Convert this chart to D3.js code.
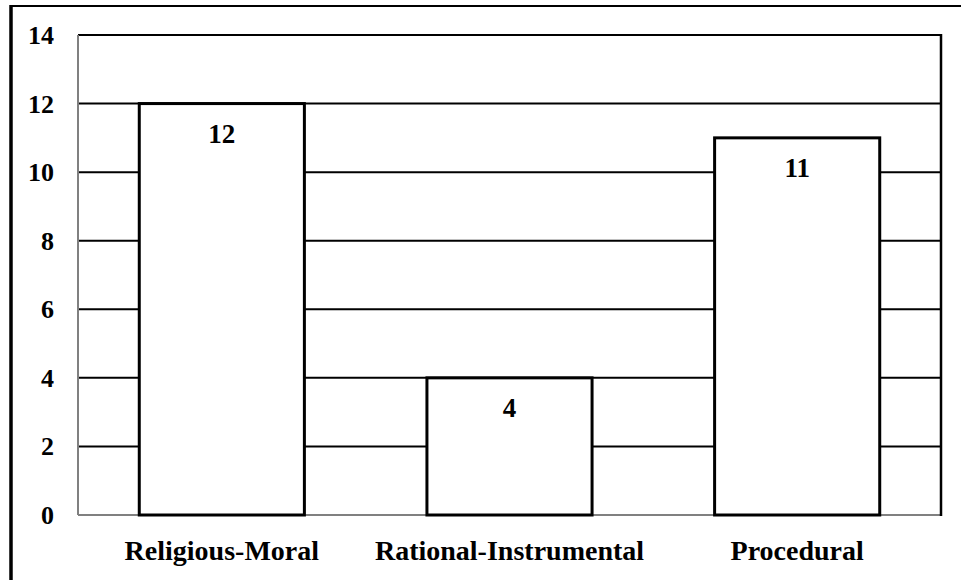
<!DOCTYPE html>
<html>
<head>
<meta charset="utf-8">
<script src="https://cdn.jsdelivr.net/npm/d3@7"></script>
<style>
  body { margin: 0; background: #fff; }
</style>
</head>
<body>
<div id="chart"></div>
<script>
  var categories = ["Religious-Moral", "Rational-Instrumental", "Procedural"];
  var counts = [12, 4, 11];
  var yTicks = [0, 2, 4, 6, 8, 10, 12, 14];

  function init() {
    var w = 961;
    var h = 580;
    var plotLeft = 78, plotRight = 941, plotTop = 35, plotBottom = 515;
    var font = "'Liberation Serif'";

    var svg = d3.select("#chart")
      .append("svg")
      .attr("width", w)
      .attr("height", h);

    var xScale = d3.scaleBand()
      .domain(categories)
      .range([plotLeft, plotRight])
      .paddingInner(0.426)
      .paddingOuter(0.213);

    var yScale = d3.scaleLinear()
      .domain([0, 14])
      .range([plotBottom, plotTop]);

    // texts first
    svg.selectAll("text.val")
      .data(counts)
      .enter()
      .append("text")
      .attr("x", (d, i) => xScale(categories[i]) + xScale.bandwidth() / 2)
      .attr("y", d => yScale(d) + 39)
      .attr("text-anchor", "middle")
      .attr("font-family", font)
      .attr("font-weight", "bold")
      .attr("font-size", 27)
      .text(d => d);

    svg.selectAll("text.ytick")
      .data(yTicks)
      .enter()
      .append("text")
      .attr("x", 54)
      .attr("y", d => yScale(d) + 9)
      .attr("text-anchor", "end")
      .attr("font-family", font)
      .attr("font-weight", "bold")
      .attr("font-size", 26)
      .text(d => d);

    svg.selectAll("text.cat")
      .data(categories)
      .enter()
      .append("text")
      .attr("x", d => xScale(d) + xScale.bandwidth() / 2)
      .attr("y", 560)
      .attr("text-anchor", "middle")
      .attr("font-family", font)
      .attr("font-weight", "bold")
      .attr("font-size", 28)
      .text(d => d);

    var g = svg.insert("g", "text");

    // outer frame (only top and left edges fall inside the view)
    g.append("line")
      .attr("x1", 11).attr("x2", w)
      .attr("y1", 6).attr("y2", 6)
      .attr("stroke", "#000")
      .attr("stroke-width", 2);
    g.append("line")
      .attr("x1", 11).attr("x2", 11)
      .attr("y1", 5).attr("y2", h)
      .attr("stroke", "#000")
      .attr("stroke-width", 3.5);

    // gridlines
    g.selectAll("line.grid")
      .data(yTicks.filter(d => d > 0))
      .enter()
      .append("line")
      .attr("class", "grid")
      .attr("x1", plotLeft)
      .attr("x2", plotRight)
      .attr("y1", d => yScale(d))
      .attr("y2", d => yScale(d))
      .attr("stroke", "#000")
      .attr("stroke-width", 2);

    // axis lines
    g.append("line")
      .attr("x1", plotLeft).attr("x2", plotRight)
      .attr("y1", plotBottom).attr("y2", plotBottom)
      .attr("stroke", "#808080").attr("stroke-width", 2);
    g.append("line")
      .attr("x1", plotLeft).attr("x2", plotLeft)
      .attr("y1", plotTop).attr("y2", plotBottom)
      .attr("stroke", "#808080").attr("stroke-width", 2);
    g.append("line")
      .attr("x1", plotRight).attr("x2", plotRight)
      .attr("y1", plotTop - 1).attr("y2", plotBottom + 1)
      .attr("stroke", "#000").attr("stroke-width", 2.5);

    // bars
    g.selectAll("rect")
      .data(counts)
      .enter()
      .append("rect")
      .attr("x", (d, i) => xScale(categories[i]))
      .attr("y", d => yScale(d))
      .attr("width", xScale.bandwidth())
      .attr("height", d => plotBottom - yScale(d))
      .attr("fill", "#fff")
      .attr("stroke", "#000")
      .attr("stroke-width", 3);
  }

  window.onload = init;
</script>
</body>
</html>
